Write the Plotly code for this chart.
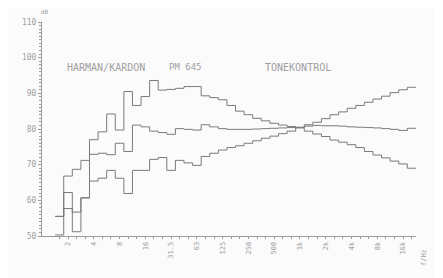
import math
import plotly.graph_objects as go

# 1/3-octave band index (relative to 1 kHz = 0) and nominal labels
band_index = list(range(-28, 14))  # 42 bands: 1.6 Hz ... 20 kHz
octave_labels = ["2", "4", "8", "16", "31.5", "63", "125", "250", "500",
                 "1k", "2k", "4k", "8k", "16k"]
octave_band_index = [-27, -24, -21, -18, -15, -12, -9, -6, -3, 0, 3, 6, 9, 12]

# levels in dB per band
curve_a = [55.5, 66.8, 68.7, 71.2, 77.0, 79.2, 84.2, 79.7, 90.5, 86.6,
           89.1, 93.6, 90.9, 91.1, 91.4, 91.9, 91.9, 89.3, 88.8, 88.2,
           86.6, 85.0, 84.0, 83.0, 82.3, 81.6, 81.1, 80.7, 80.4, 79.4,
           78.6, 77.9, 76.9, 76.3, 75.6, 74.8, 73.7, 72.7, 71.9, 71.0,
           70.2, 69.0]
curve_b = [55.5, 62.2, 56.7, 60.7, 72.9, 73.2, 72.8, 76.0, 73.7, 81.1,
           80.6, 79.4, 79.0, 78.5, 80.1, 79.9, 79.7, 81.2, 80.6, 80.1,
           79.9, 79.9, 79.9, 80.0, 80.1, 80.2, 80.3, 80.4, 80.5, 80.8,
           81.0, 80.9, 80.9, 80.8, 80.6, 80.5, 80.4, 80.3, 80.1, 79.9,
           79.6, 80.2]
curve_c = [50.3, 57.7, 51.2, 60.7, 65.4, 66.2, 68.4, 66.2, 61.9, 68.4,
           68.4, 71.5, 72.0, 68.4, 71.2, 70.5, 69.8, 72.3, 73.2, 74.1,
           74.8, 75.3, 76.0, 76.7, 77.4, 78.0, 78.7, 79.4, 80.3, 81.2,
           81.9, 82.9, 84.0, 84.8, 85.8, 86.6, 87.5, 88.4, 89.2, 90.2,
           91.0, 91.7]

y_ticks = [50, 60, 70, 80, 90, 100, 110]


def fc(k):
    return 1000.0 * 2 ** (k / 3.0)


centers = [fc(k) for k in band_index]
edges = [fc(k - 0.5) for k in band_index] + [fc(band_index[-1] + 0.5)]

LINE = "#7a7a7a"
TXT = "#a0a0a0"
AX = "#9a9a9a"
BG = "#fcfbfc"
FONT = "DejaVu Sans Mono"

fig = go.Figure()
for vals in (curve_a, curve_b, curve_c):
    fig.add_trace(go.Scatter(
        x=edges, y=vals + [vals[-1]], mode="lines", line_shape="hv",
        line=dict(color=LINE, width=1), hoverinfo="skip", showlegend=False))

x_lo = math.log10(fc(-30.03))
x_hi = math.log10(fc(13.51))

ticktext = []
for k in band_index:
    if k in octave_band_index:
        ticktext.append(octave_labels[octave_band_index.index(k)])
    else:
        ticktext.append("")

# page body has an 8px margin; figure sized to fit the 443x278 window
fig.update_layout(
    width=435, height=270,
    margin=dict(l=34, r=27, t=10, b=42),
    paper_bgcolor=BG, plot_bgcolor=BG,
    font=dict(family=FONT, color=TXT, size=7),
    xaxis=dict(type="log", range=[x_lo, x_hi], showgrid=False, zeroline=False,
               showline=True, linecolor=AX, linewidth=1,
               tickmode="array", tickvals=centers, ticktext=ticktext,
               ticks="outside", ticklen=2, tickcolor=AX, tickwidth=1,
               tickangle=-90, tickfont=dict(size=7, color=TXT, family=FONT)),
    yaxis=dict(range=[50, 110], showgrid=False, zeroline=False,
               showline=True, linecolor=AX, linewidth=1,
               tickmode="array", tickvals=y_ticks,
               ticktext=[str(v) for v in y_ticks],
               ticks="outside", ticklen=3, tickcolor=AX,
               minor=dict(dtick=1, ticklen=2, tickcolor=AX, ticks="outside"),
               tickfont=dict(size=8, color=TXT, family=FONT)),
)

fig.add_annotation(xref="paper", yref="paper", x=0.0615, y=0.823,
                   text="HARMAN/KARDON", showarrow=False, xanchor="left",
                   font=dict(size=10, color=TXT, family=FONT))
fig.add_annotation(xref="paper", yref="paper", x=0.334, y=0.823,
                   text="PM 645", showarrow=False, xanchor="left",
                   font=dict(size=9, color=TXT, family=FONT))
fig.add_annotation(xref="paper", yref="paper", x=0.591, y=0.823,
                   text="TONEKONTROL", showarrow=False, xanchor="left",
                   font=dict(size=10, color=TXT, family=FONT))
fig.add_annotation(xref="paper", yref="paper", x=-0.006, y=1.028,
                   text="dB", showarrow=False, xanchor="left",
                   yanchor="bottom", borderpad=0,
                   font=dict(size=6, color=TXT, family=FONT))
fig.add_annotation(xref="paper", yref="paper", x=1.037, y=-0.05,
                   text="f/Hz", showarrow=False, textangle=-90,
                   yanchor="top", font=dict(size=7, color=TXT, family=FONT))

fig.write_html("out.html")
